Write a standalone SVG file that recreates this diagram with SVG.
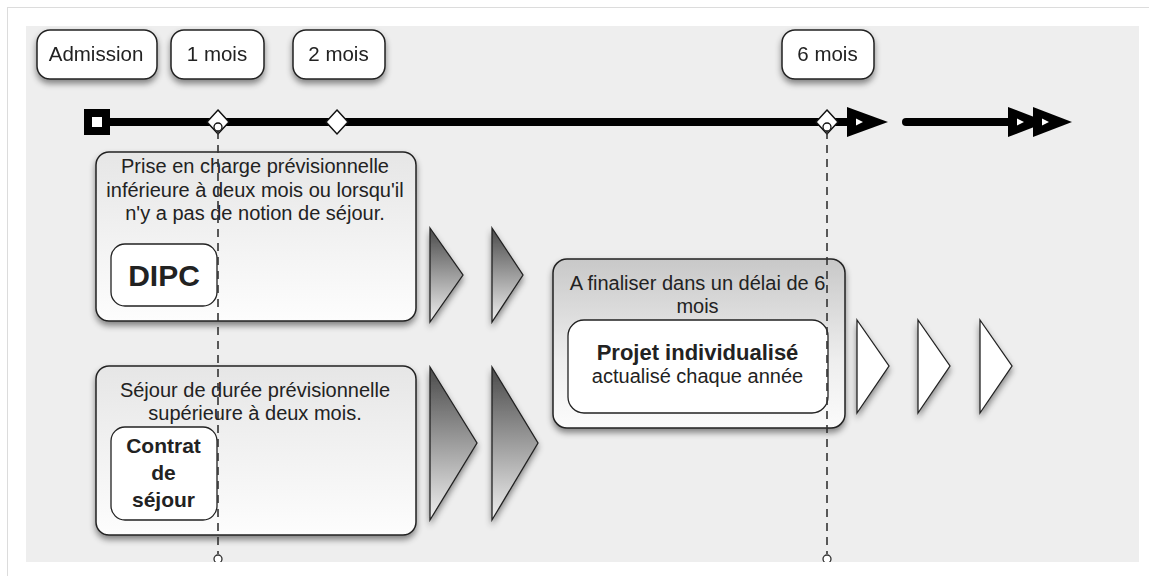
<svg xmlns="http://www.w3.org/2000/svg" width="1149" height="576" viewBox="0 0 1149 576">
<defs>
<style>
.t{font-family:"Liberation Sans",Arial,sans-serif;fill:#222;text-anchor:middle}
.lbl{fill:#fff;stroke:#222;stroke-width:1.5}
.box{stroke:#222;stroke-width:1.5}
.inner{fill:#fff;stroke:#222;stroke-width:1.3}
.dash{stroke:#333;stroke-width:1.6;stroke-dasharray:8,6;fill:none}
.dia{fill:#fff;stroke:#111;stroke-width:1.5}
.chev{stroke:#222;stroke-width:1.3;fill:url(#gChev)}
.chevw{stroke:#222;stroke-width:1.3;fill:#fff}
</style>
<linearGradient id="gBox" x1="0" y1="0" x2="0" y2="1">
<stop offset="0" stop-color="#e6e6e6"/><stop offset="1" stop-color="#fdfdfd"/>
</linearGradient>
<linearGradient id="gBox3" x1="0" y1="0" x2="0" y2="1">
<stop offset="0" stop-color="#c8c8c8"/><stop offset="0.6" stop-color="#eeeeee"/><stop offset="1" stop-color="#fbfbfb"/>
</linearGradient>
<linearGradient id="gChev" x1="0" y1="0" x2="0" y2="1">
<stop offset="0" stop-color="#4a4a4a"/><stop offset="1" stop-color="#f0f0f0"/>
</linearGradient>
<filter id="sh" x="-20%" y="-20%" width="140%" height="150%">
<feDropShadow dx="0" dy="4" stdDeviation="3" flood-color="#000" flood-opacity="0.45"/>
</filter>
<clipPath id="clipBg"><rect x="26" y="26" width="1113" height="536"/></clipPath>
</defs>
<rect x="0" y="0" width="1149" height="576" fill="#fff"/>
<rect x="7.5" y="7.5" width="1150" height="580" fill="#fff" stroke="#dcdcdc" stroke-width="1"/>
<rect x="26" y="26" width="1113" height="536" fill="#eeeeee"/>
<g clip-path="url(#clipBg)">
<g id="lbl-admission" filter="url(#sh)">
<rect class="lbl" x="37" y="30" width="120" height="49" rx="13"/>
<text class="t" x="96" y="61" font-size="20.5">Admission</text>
</g>
<g id="lbl-1mois" filter="url(#sh)">
<rect class="lbl" x="171" y="30" width="93" height="49" rx="13"/>
<text class="t" x="217" y="61" font-size="20.5">1 mois</text>
</g>
<g id="lbl-2mois" filter="url(#sh)">
<rect class="lbl" x="293" y="30" width="92" height="49" rx="13"/>
<text class="t" x="338.5" y="61" font-size="20.5">2 mois</text>
</g>
<g id="lbl-6mois" filter="url(#sh)">
<rect class="lbl" x="782" y="30" width="92" height="49" rx="13"/>
<text class="t" x="827.5" y="61" font-size="20.5">6 mois</text>
</g>
<g id="timeline">
<rect x="84" y="109" width="26" height="26" fill="#000"/>
<rect x="92" y="117" width="10" height="10" fill="#fff"/>
<line x1="110" y1="122" x2="850" y2="122" stroke="#000" stroke-width="8"/>
<polygon points="847,107 888,122 847,137" fill="#000"/>
<polygon points="856,118.5 863,122 856,125.5" fill="#fff"/>
<line x1="906" y1="122" x2="1012" y2="122" stroke="#000" stroke-width="8" stroke-linecap="round"/>
<polygon points="1008,107 1047,122 1008,137" fill="#000"/>
<polygon points="1017,118.5 1024,122 1017,125.5" fill="#fff"/>
<polygon points="1033,107 1072,122 1033,137" fill="#000"/>
<polygon points="1042,118.5 1049,122 1042,125.5" fill="#fff"/>
<polygon class="dia" points="218,110 229,122 218,134 207,122"/>
<polygon class="dia" points="337,110 348,122 337,134 326,122"/>
<polygon class="dia" points="827,110 838,122 827,134 816,122"/>
</g>
<g id="box-dipc">
<rect class="box" x="96" y="152" width="320" height="169" rx="13" fill="url(#gBox)" filter="url(#sh)"/>
<text class="t" font-size="20"><tspan x="255" y="173">Prise en charge prévisionnelle</tspan><tspan x="255" y="197">inférieure à deux mois ou lorsqu'il</tspan><tspan x="255" y="220">n'y a pas de notion de séjour.</tspan></text>
<rect class="inner" x="111" y="244" width="106" height="62" rx="14"/>
<text class="t" x="164" y="286" font-size="30" font-weight="bold" fill="#111">DIPC</text>
</g>
<g id="box-contrat">
<rect class="box" x="96" y="366" width="320" height="169" rx="13" fill="url(#gBox)" filter="url(#sh)"/>
<text class="t" font-size="20"><tspan x="255" y="397">Séjour de durée prévisionnelle</tspan><tspan x="255" y="420">supérieure à deux mois.</tspan></text>
<rect class="inner" x="111" y="427" width="106" height="93" rx="14"/>
<text class="t" font-size="21" font-weight="bold" fill="#111"><tspan x="163.5" y="453">Contrat</tspan><tspan x="163.5" y="480">de</tspan><tspan x="163.5" y="507">séjour</tspan></text>
</g>
<g id="box-projet">
<rect class="box" x="553" y="259" width="292" height="169" rx="14" fill="url(#gBox3)" filter="url(#sh)"/>
<text class="t" font-size="20"><tspan x="697.5" y="290">A finaliser dans un délai de 6</tspan><tspan x="697.5" y="313">mois</tspan></text>
<rect class="inner" x="568" y="320" width="260" height="93" rx="16"/>
<text class="t" x="697.5" y="360" font-size="22" font-weight="bold" fill="#111">Projet individualisé</text>
<text class="t" x="697.5" y="383" font-size="20">actualisé chaque année</text>
</g>
<g id="chevrons" filter="url(#sh)">
<polygon class="chev" points="430,228 463,275 430,322"/>
<polygon class="chev" points="492,228 523,275 492,322"/>
<polygon class="chev" points="430,367 477,443 430,520"/>
<polygon class="chev" points="492,367 538,443 492,520"/>
<polygon class="chevw" points="857,320 889,366 857,413"/>
<polygon class="chevw" points="918,320 950,366 918,413"/>
<polygon class="chevw" points="980,320 1012,366 980,413"/>
</g>
<g id="connectors">
<line class="dash" x1="218" y1="131" x2="218" y2="554"/>
<line class="dash" x1="827" y1="131" x2="827" y2="554"/>
<circle cx="218" cy="127" r="4" fill="#fff" stroke="#111" stroke-width="1.3"/>
<circle cx="827" cy="127" r="4" fill="#fff" stroke="#111" stroke-width="1.3"/>
<circle cx="218" cy="559" r="4" fill="#fff" stroke="#333" stroke-width="1.3"/>
<circle cx="827" cy="559" r="4" fill="#fff" stroke="#333" stroke-width="1.3"/>
</g>
</g>
</svg>
